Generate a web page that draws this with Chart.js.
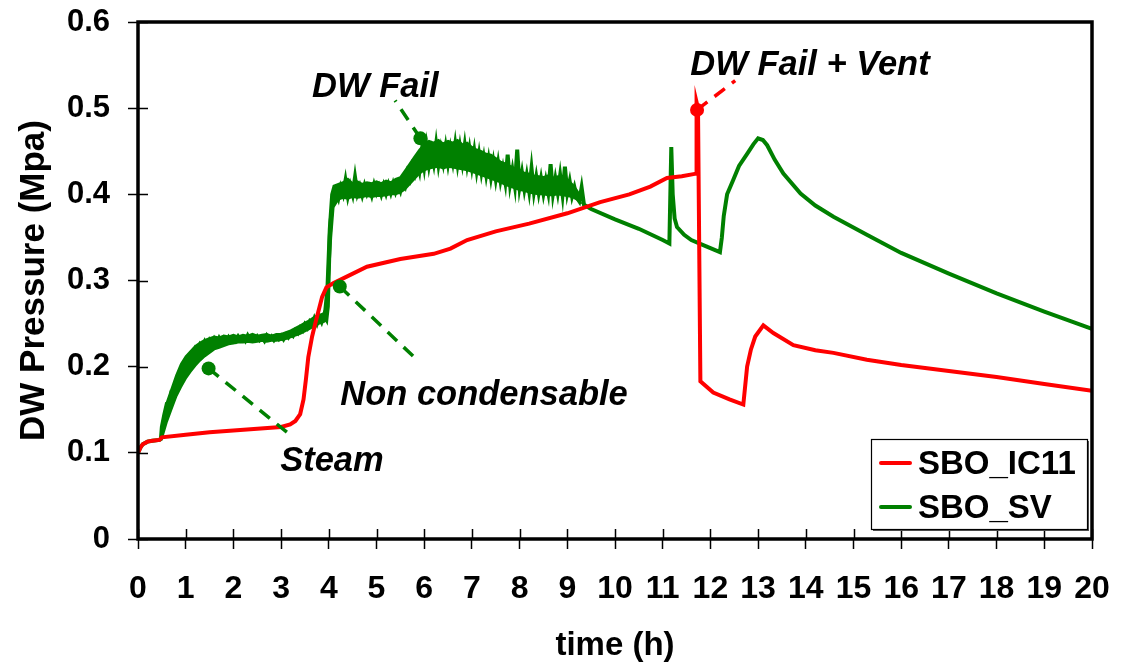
<!DOCTYPE html>
<html lang="en">
<head>
    <meta charset="UTF-8">
    <title>DW Pressure</title>
    <script src="https://cdn.jsdelivr.net/npm/chart.js@4.4.0/dist/chart.umd.min.js"></script>
    <style>
        html, body { margin: 0; padding: 0; background: #fff; }
        #wrap { width: 1124px; height: 668px; }
    </style>
</head>
<body>
<div id="wrap"><canvas id="dwChart" width="1124" height="668"></canvas></div>

<script>
    // SBO_IC11 (red)
    const icTime = [0, 0.05, 0.1, 0.2, 0.3, 0.45, 0.5, 1.0, 1.5, 2.0, 2.5, 3.0, 3.19, 3.3, 3.4, 3.47, 3.52, 3.57, 3.65, 3.72,
        3.8, 3.86, 3.95, 4.1, 4.8, 5.5, 6.2, 6.55, 6.9, 7.5, 8.2, 9.0, 9.69, 10.3, 10.74, 11.09, 11.4, 11.7, 11.71, 11.74,
        11.79, 12.06, 12.4, 12.69, 12.77, 12.85, 12.94, 13.11, 13.32, 13.74, 14.2, 14.58, 15.28, 16, 17, 18, 19, 20];
    const icPres = [0.100, 0.106, 0.110, 0.113, 0.114, 0.115, 0.118, 0.121, 0.124, 0.126, 0.128, 0.130, 0.133, 0.137, 0.145, 0.162, 0.185, 0.211, 0.235, 0.251,
        0.268, 0.281, 0.292, 0.297, 0.316, 0.325, 0.331, 0.337, 0.347, 0.357, 0.366, 0.378, 0.391, 0.400, 0.409, 0.419, 0.421, 0.424, 0.507, 0.500,
        0.183, 0.170, 0.162, 0.156, 0.200, 0.220, 0.235, 0.248, 0.239, 0.225, 0.219, 0.216, 0.208, 0.202, 0.195, 0.188, 0.180, 0.172];

    // SBO_SV (green)
    const svTime = [0, 0.05, 0.1, 0.2, 0.3, 0.45, 0.48,
        0.50, 0.55, 0.60, 0.65, 0.70, 0.75, 0.80, 0.85, 0.90, 0.95,
        1.00, 1.05, 1.10, 1.15, 1.20, 1.25, 1.30, 1.35, 1.40, 1.45,
        1.50, 1.55, 1.60, 1.65, 1.70, 1.75, 1.80, 1.85, 1.90, 1.95,
        2.00, 2.05, 2.10, 2.15, 2.20, 2.25, 2.30, 2.35, 2.40, 2.45,
        2.50, 2.55, 2.60, 2.65, 2.70, 2.75, 2.80, 2.85, 2.90, 2.95,
        3.00, 3.05, 3.10, 3.15, 3.20, 3.25, 3.30, 3.35, 3.40, 3.45,
        3.50, 3.55, 3.60, 3.65, 3.70, 3.75, 3.80, 3.85, 3.90, 3.95,
        3.98, 4.00, 4.02, 4.04, 4.07, 4.10,
        4.15, 4.20, 4.25, 4.30, 4.35, 4.40, 4.45, 4.50, 4.55, 4.60,
        4.65, 4.70, 4.75, 4.80, 4.85, 4.90, 4.95, 5.00, 5.05, 5.10,
        5.15, 5.20, 5.25, 5.30, 5.35, 5.40, 5.45, 5.50, 5.55, 5.60,
        5.65, 5.70, 5.75, 5.80, 5.85, 5.90, 5.95, 6.00, 6.05, 6.10,
        6.15, 6.20, 6.25, 6.30, 6.35, 6.40, 6.45, 6.50, 6.55, 6.60,
        6.65, 6.70, 6.75, 6.80, 6.85, 6.90, 6.95, 7.00, 7.05, 7.10,
        7.15, 7.20, 7.25, 7.30, 7.35, 7.40, 7.45, 7.50, 7.55, 7.60,
        7.65, 7.70, 7.75, 7.80, 7.85, 7.90, 7.95, 8.00, 8.05, 8.10,
        8.15, 8.20, 8.25, 8.30, 8.35, 8.40, 8.45, 8.50, 8.55, 8.60,
        8.65, 8.70, 8.75, 8.80, 8.85, 8.90, 8.95, 9.00, 9.05, 9.10,
        9.15, 9.20, 9.25, 9.30, 9.35,
        9.50, 10.0, 10.5, 11.0, 11.14, 11.16, 11.18, 11.21, 11.25, 11.30, 11.45, 11.60, 11.90, 12.20,
        12.24, 12.28, 12.35, 12.48, 12.60, 12.77, 12.90, 13.00, 13.10, 13.19, 13.35, 13.53, 13.89,
        14.20, 14.58, 15.28, 16, 17, 18, 19, 20];
    const svPres = [0.100, 0.106, 0.110, 0.113, 0.114, 0.115, 0.116,
        0.130, 0.144, 0.156, 0.155, 0.170, 0.169, 0.183, 0.185, 0.196, 0.194,
        0.206, 0.202, 0.213, 0.209, 0.219, 0.213, 0.224, 0.219, 0.228, 0.222,
        0.230, 0.225, 0.232, 0.227, 0.233, 0.228, 0.233, 0.229, 0.234, 0.230,
        0.234, 0.230, 0.235, 0.231, 0.234, 0.230, 0.236, 0.231, 0.234, 0.231,
        0.235, 0.231, 0.234, 0.230, 0.236, 0.232, 0.235, 0.231, 0.235, 0.232,
        0.236, 0.232, 0.237, 0.234, 0.239, 0.236, 0.242, 0.239, 0.245, 0.242,
        0.249, 0.245, 0.252, 0.248, 0.256, 0.250, 0.258, 0.252, 0.260, 0.255,
        0.270, 0.310, 0.350, 0.370, 0.385, 0.392,
        0.402, 0.395, 0.408, 0.400, 0.416, 0.398, 0.410, 0.400, 0.420, 0.401,
        0.409, 0.399, 0.410, 0.401, 0.408, 0.399, 0.411, 0.402, 0.409, 0.400,
        0.410, 0.401, 0.411, 0.402, 0.412, 0.403, 0.411, 0.404, 0.416, 0.410,
        0.425, 0.418, 0.432, 0.424, 0.438, 0.427, 0.450, 0.432, 0.455, 0.434,
        0.450, 0.436, 0.458, 0.435, 0.452, 0.437, 0.455, 0.436, 0.453, 0.438,
        0.458, 0.436, 0.455, 0.437, 0.457, 0.435, 0.452, 0.432, 0.450, 0.428,
        0.446, 0.426, 0.442, 0.423, 0.440, 0.420, 0.437, 0.418, 0.436, 0.416,
        0.430, 0.414, 0.446, 0.412, 0.428, 0.410, 0.452, 0.409, 0.425, 0.406,
        0.422, 0.404, 0.430, 0.403, 0.420, 0.402, 0.418, 0.401, 0.416, 0.402,
        0.435, 0.401, 0.418, 0.402, 0.422, 0.400, 0.432, 0.402, 0.415, 0.398,
        0.408, 0.396, 0.392, 0.408, 0.388,
        0.383, 0.371, 0.360, 0.347, 0.343, 0.400, 0.455, 0.400, 0.372, 0.362, 0.353, 0.347, 0.340, 0.333,
        0.350, 0.375, 0.400, 0.417, 0.433, 0.447, 0.458, 0.465, 0.463, 0.457, 0.440, 0.424, 0.401,
        0.387, 0.374, 0.353, 0.332, 0.308, 0.285, 0.264, 0.244];

    // SBO_SV scatter band (low / high envelope of the noisy record)
    const bandTime = [0.50, 0.60, 0.70, 0.80, 0.90, 1.00, 1.10, 1.20, 1.30, 1.40,
        1.50, 1.60, 1.70, 1.80, 1.90, 2.00, 2.10, 2.20, 2.30, 2.40,
        2.50, 2.60, 2.70, 2.80, 2.90, 3.00, 3.10, 3.20, 3.30, 3.40,
        3.50, 3.60, 3.70, 3.80, 3.90, 3.95, 4.00, 4.05, 4.10, 4.20,
        4.30, 4.40, 4.50, 4.60, 4.70, 4.80, 4.90, 5.00, 5.10, 5.20,
        5.30, 5.40, 5.50, 5.60, 5.70, 5.80, 5.90, 6.00, 6.10, 6.20,
        6.30, 6.40, 6.50, 6.60, 6.70, 6.80, 6.90, 7.00, 7.10, 7.20,
        7.30, 7.40, 7.50, 7.60, 7.70, 7.80, 7.90, 8.00, 8.10, 8.20,
        8.30, 8.40, 8.50, 8.60, 8.70, 8.80, 8.90, 9.00, 9.10, 9.20, 9.30];
    const bandLow = [0.116, 0.135, 0.150, 0.165, 0.176, 0.186, 0.194, 0.201, 0.207, 0.212,
        0.216, 0.220, 0.222, 0.224, 0.226, 0.227, 0.228, 0.228, 0.229, 0.228,
        0.229, 0.230, 0.229, 0.230, 0.230, 0.231, 0.232, 0.234, 0.236, 0.238,
        0.241, 0.244, 0.247, 0.250, 0.252, 0.254, 0.300, 0.350, 0.385, 0.394,
        0.396, 0.395, 0.397, 0.396, 0.397, 0.398, 0.397, 0.398, 0.398, 0.399,
        0.400, 0.400, 0.402, 0.406, 0.412, 0.418, 0.424, 0.428, 0.430, 0.431,
        0.432, 0.430, 0.432, 0.431, 0.430, 0.429, 0.428, 0.426, 0.424, 0.422,
        0.420, 0.418, 0.416, 0.414, 0.411, 0.409, 0.407, 0.405, 0.404, 0.402,
        0.401, 0.400, 0.400, 0.399, 0.399, 0.400, 0.399, 0.398, 0.397, 0.394, 0.389];
    const bandHigh = [0.132, 0.158, 0.174, 0.190, 0.203, 0.212, 0.218, 0.224, 0.228, 0.231,
        0.233, 0.235, 0.234, 0.236, 0.235, 0.237, 0.235, 0.237, 0.236, 0.238,
        0.236, 0.237, 0.238, 0.236, 0.238, 0.238, 0.240, 0.242, 0.245, 0.248,
        0.251, 0.254, 0.258, 0.260, 0.262, 0.290, 0.360, 0.400, 0.410, 0.412,
        0.414, 0.418, 0.413, 0.415, 0.412, 0.414, 0.413, 0.415, 0.413, 0.416,
        0.414, 0.418, 0.420, 0.428, 0.436, 0.444, 0.452, 0.458, 0.462, 0.460,
        0.463, 0.459, 0.462, 0.460, 0.463, 0.458, 0.460, 0.455, 0.452, 0.450,
        0.447, 0.446, 0.442, 0.438, 0.436, 0.433, 0.430, 0.428, 0.425, 0.424,
        0.422, 0.421, 0.420, 0.422, 0.419, 0.421, 0.418, 0.417, 0.412, 0.405, 0.396];

    // callouts: text anchor, dot, dashed leader end (data units)
    const noteText = ["Steam", "Non condensable", "DW Fail", "DW Fail + Vent"];
    const noteTextX = [2.98, 4.24, 3.65, 11.58];
    const noteTextY = [0.090, 0.167, 0.524, 0.550];
    const noteDotX = [1.48, 4.23, 5.92, 11.72];
    const noteDotY = [0.198, 0.293, 0.465, 0.498];
    const noteEndX = [3.23, 5.81, 5.39, 12.52];
    const noteEndY = [0.119, 0.210, 0.509, 0.532];
    const noteColor = ["#008000", "#008000", "#008000", "#FF0000"];

    const xTicks = [0, 1, 2, 3, 4, 5, 6, 7, 8, 9, 10, 11, 12, 13, 14, 15, 16, 17, 18, 19, 20];
    const yTicks = [0, 0.1, 0.2, 0.3, 0.4, 0.5, 0.6];

    const FONT = "'Liberation Sans', Arial, sans-serif";
    const RED = "#FF0000", GREEN = "#008000";

    function pairs(xs, ys) {
        return xs.map((x, i) => ({x: x, y: ys[i]}));
    }

    const datasets = [
        {label: "SBO_IC11", data: pairs(icTime, icPres), borderColor: RED, backgroundColor: RED,
            borderWidth: 4, pointRadius: 0, tension: 0, inLegend: true, order: 2},
        {label: "SBO_SV", data: pairs(svTime, svPres), borderColor: GREEN, backgroundColor: GREEN,
            borderWidth: 4, pointRadius: 0, tension: 0, inLegend: true, order: 3},
        {label: "sv low", data: pairs(bandTime, bandLow), borderColor: GREEN, backgroundColor: GREEN,
            borderWidth: 2, pointRadius: 0, tension: 0, fill: false, order: 4},
        {label: "sv high", data: pairs(bandTime, bandHigh), borderColor: GREEN, backgroundColor: GREEN,
            borderWidth: 2, pointRadius: 0, tension: 0, fill: "-1", order: 4}
    ];
    noteText.forEach((t, i) => {
        datasets.push({
            label: t, data: [{x: noteDotX[i], y: noteDotY[i]}, {x: noteEndX[i], y: noteEndY[i]}],
            borderColor: noteColor[i], backgroundColor: noteColor[i], borderWidth: 3.5,
            borderDash: [13, 9], pointRadius: [7, 0], pointBorderWidth: 0, tension: 0, order: 1
        });
    });

    const decor = {
        id: "decor",
        afterDraw(chart) {
            const ctx = chart.ctx;
            const a = chart.chartArea;
            const xs = chart.scales.x, ys = chart.scales.y;
            ctx.save();
            // inner tick marks
            ctx.strokeStyle = "#000";
            ctx.lineWidth = 1.5;
            ctx.beginPath();
            xTicks.forEach(v => {
                const p = Math.round(xs.getPixelForValue(v)) + 0.5;
                ctx.moveTo(p, a.bottom);
                ctx.lineTo(p, a.bottom - 10);
            });
            yTicks.forEach(v => {
                const p = Math.round(ys.getPixelForValue(v)) + 0.5;
                ctx.moveTo(a.left, p);
                ctx.lineTo(a.left + 10, p);
            });
            ctx.stroke();
            // frame
            ctx.lineWidth = 3.5;
            ctx.strokeRect(a.left, a.top, a.right - a.left, a.bottom - a.top);

            // callout text
            ctx.fillStyle = "#000";
            ctx.font = "italic bold 34.5px " + FONT;
            ctx.textAlign = "left";
            ctx.textBaseline = "middle";
            noteText.forEach((t, i) => {
                ctx.fillText(t, xs.getPixelForValue(noteTextX[i]), ys.getPixelForValue(noteTextY[i]));
            });

            // legend box
            const items = chart.data.datasets.filter(d => d.inLegend);
            const bw = 216, bh = 90;
            const bx = a.right - 5 - bw, by = a.bottom - 10 - bh;
            ctx.fillStyle = "#555";
            ctx.fillRect(bx + 2, by + 2, bw, bh);
            ctx.fillStyle = "#fff";
            ctx.fillRect(bx, by, bw, bh);
            ctx.lineWidth = 1.2;
            ctx.strokeStyle = "#000";
            ctx.strokeRect(bx + 0.5, by + 0.5, bw, bh);
            ctx.font = "bold 33px " + FONT;
            ctx.textBaseline = "middle";
            items.forEach((d, i) => {
                const cy = by + 24 + i * 44;
                ctx.strokeStyle = d.borderColor;
                ctx.lineWidth = 4;
                ctx.lineCap = "round";
                ctx.beginPath();
                ctx.moveTo(bx + 10, cy);
                ctx.lineTo(bx + 39, cy);
                ctx.stroke();
                ctx.fillStyle = "#000";
                ctx.fillText(d.label, bx + 47, cy + 2);
            });
            ctx.restore();
        }
    };

    new Chart(document.getElementById("dwChart").getContext("2d"), {
        type: "line",
        data: {datasets: datasets},
        options: {
            responsive: false,
            animation: false,
            events: [],
            layout: {padding: {top: 22, right: 32, left: 0, bottom: 0}},
            plugins: {
                legend: {display: false},
                tooltip: {enabled: false}
            },
            scales: {
                x: {
                    type: "linear",
                    min: 0, max: 20,
                    afterFit: s => { s.height = 129; s.paddingLeft = 0; s.paddingRight = 0; },
                    afterBuildTicks: s => { s.ticks = xTicks.map(v => ({value: v})); },
                    ticks: {color: "#000", font: {family: FONT, size: 32, weight: "bold"}, padding: 21, maxRotation: 0, autoSkip: false},
                    grid: {drawOnChartArea: false, drawTicks: true, tickLength: 10, tickColor: "#000", tickWidth: 1.5},
                    border: {display: false},
                    title: {display: true, text: "time (h)", color: "#000", font: {family: FONT, size: 33, weight: "bold"}, padding: {top: 0, bottom: 2}}
                },
                y: {
                    min: 0, max: 0.6,
                    afterFit: s => { s.width = 138; s.paddingTop = 0; s.paddingBottom = 0; },
                    afterBuildTicks: s => { s.ticks = yTicks.map(v => ({value: v})); },
                    ticks: {color: "#000", font: {family: FONT, size: 31, weight: "bold"}, padding: 18,
                        callback: v => v === 0 ? "0" : v.toFixed(1)},
                    grid: {drawOnChartArea: false, drawTicks: true, tickLength: 10, tickColor: "#000", tickWidth: 1.5},
                    border: {display: false},
                    title: {display: true, text: "DW Pressure (Mpa)", color: "#000", font: {family: FONT, size: 35, weight: "bold"}, padding: {top: 13, bottom: 0}}
                }
            }
        },
        plugins: [decor]
    });
</script>
</body>
</html>
